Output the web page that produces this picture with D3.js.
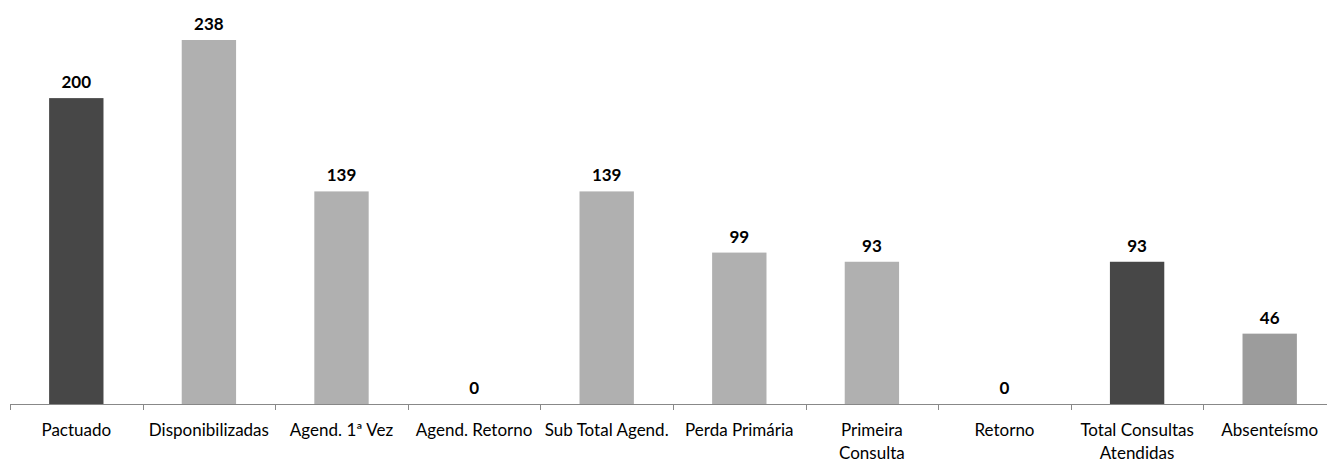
<!DOCTYPE html>
<html>
<head>
<meta charset="utf-8">
<script src="https://cdn.jsdelivr.net/npm/d3@7"></script>
<style>
  html, body { margin: 0; padding: 0; background: #fff; }
  svg { display: block; }
</style>
</head>
<body>
<div id="chart"></div>
<script>
const categories = [
  "Pactuado", "Disponibilizadas", "Agend. 1ª Vez", "Agend. Retorno", "Sub Total Agend.",
  "Perda Primária", "Primeira Consulta", "Retorno", "Total Consultas Atendidas", "Absenteísmo"
];
const values = [200, 238, 139, 0, 139, 99, 93, 0, 93, 46];
const barTones = ["dark", "light", "light", "light", "light", "light", "light", "light", "dark", "mid"];
// labels that Excel wrapped onto two lines
const wrapAt = { "Primeira Consulta": 1, "Total Consultas Atendidas": 2 };

const width = 1327, height = 464;
const baseY = 404;
const toneColor = { dark: "#474747", light: "#b0b0b0", mid: "#9c9c9c" };
const font = "Lato, 'Open Sans', sans-serif";

const svg = d3.select("#chart").append("svg")
  .attr("width", width)
  .attr("height", height);

const x = d3.scaleBand()
  .domain(categories)
  .range([10, 1336])
  .paddingInner(0.59)
  .paddingOuter(0.295);

const y = d3.scaleLinear()
  .domain([0, 238])
  .range([baseY, 40]);

// bars
svg.append("g").selectAll("rect")
  .data(categories)
  .join("rect")
  .attr("x", d => x(d))
  .attr("y", (d, i) => y(values[i]))
  .attr("width", x.bandwidth())
  .attr("height", (d, i) => baseY - y(values[i]))
  .attr("fill", (d, i) => toneColor[barTones[i]]);

// value labels
svg.append("g").selectAll("text")
  .data(categories)
  .join("text")
  .attr("x", d => x(d) + x.bandwidth() / 2)
  .attr("y", (d, i) => y(values[i]) - 10)
  .attr("text-anchor", "middle")
  .attr("font-family", font)
  .attr("font-weight", "bold")
  .attr("font-size", 17)
  .attr("fill", "#000")
  .text((d, i) => values[i]);

// category axis: ticks at band boundaries like Excel
const step = x.step();
const start = x(categories[0]) - x.paddingOuter() * step;
const axis = svg.append("g").attr("class", "axis");
axis.append("line")
  .attr("x1", start).attr("x2", start + step * categories.length)
  .attr("y1", baseY + 0.5).attr("y2", baseY + 0.5)
  .attr("stroke", "#888").attr("stroke-width", 1);
axis.selectAll("line.tick")
  .data(d3.range(categories.length + 1))
  .join("line")
  .attr("class", "tick")
  .attr("x1", i => Math.round(start + i * step) + 0.5)
  .attr("x2", i => Math.round(start + i * step) + 0.5)
  .attr("y1", baseY).attr("y2", baseY + 6)
  .attr("stroke", "#888");

const labels = axis.selectAll("text")
  .data(categories)
  .join("text")
  .attr("x", d => x(d) + x.bandwidth() / 2)
  .attr("y", 436)
  .attr("text-anchor", "middle")
  .attr("font-family", font)
  .attr("font-size", 17)
  .attr("fill", "#000");

labels.each(function(d) {
  const words = d.split(" ");
  const cut = wrapAt[d];
  const t = d3.select(this);
  if (!cut) { t.text(d); return; }
  const lines = [words.slice(0, cut).join(" "), words.slice(cut).join(" ")];
  lines.forEach((line, k) => {
    t.append("tspan")
      .attr("x", x(d) + x.bandwidth() / 2)
      .attr("dy", k === 0 ? 0 : 23)
      .text(line);
  });
});
</script>
</body>
</html>
